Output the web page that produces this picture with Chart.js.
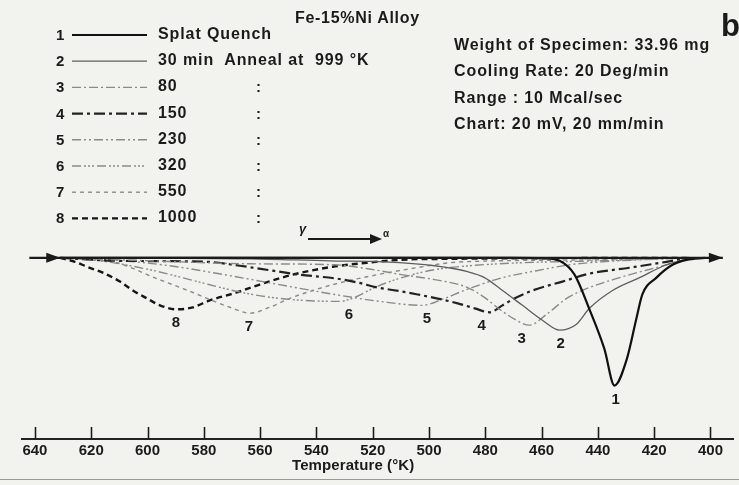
<!DOCTYPE html>
<html>
<head>
<meta charset="utf-8">
<title>Fe-15%Ni Alloy</title>
<script src="https://cdn.jsdelivr.net/npm/chart.js@4.4.1/dist/chart.umd.min.js"></script>
<style>
    html, body { margin: 0; padding: 0; background: #f2f2ef; }
    #wrap { position: relative; width: 739px; height: 485px; background: #f2f2ef; overflow: hidden; }
    #chart { position: absolute; left: 0; top: 0; }
    .txt {
        position: absolute;
        font-family: "Liberation Sans", Arial, sans-serif;
        font-weight: bold;
        color: #1b1b1b;
        white-space: pre;
        line-height: 1;
    }
</style>
</head>
<body>
<div id="wrap">
    <canvas id="chart" width="739" height="485"></canvas>
    <div class="txt" style="left:295px;top:10px;font-size:16px;letter-spacing:0.7px">Fe-15%Ni Alloy</div>
    <div class="txt" style="left:721px;top:10px;font-size:31px">b</div>
    <div class="txt" style="left:292px;top:457px;font-size:15px;letter-spacing:0.1px">Temperature (°K)</div>
    <div class="txt" style="left:299px;top:222px;font-size:13px;font-style:italic">γ</div>
    <div style="position:absolute;left:308px;top:238px;width:64px;height:2px;background:#1b1b1b"></div>
    <div style="position:absolute;left:370px;top:234px;width:0;height:0;border-top:5px solid transparent;border-bottom:5px solid transparent;border-left:12px solid #1b1b1b"></div>
    <div class="txt" style="left:383px;top:229px;font-size:10px">α</div>
    <div style="position:absolute;left:0;top:479px;width:739px;height:1px;background:#9a9a98"></div>
</div>
<script>
/**
 * Fe-15%Ni alloy - cooling curves after different anneal times
 */

// Temperature axis (K), reversed
const tickValues = [400, 420, 440, 460, 480, 500, 520, 540, 560, 580, 600, 620, 640];

// Baseline (arrow) and arrow tips
const baseT = [642, 395.6];
const baseV = [0, 0];
const arrowTips = [631, 395.6];

// Curve 1 - Splat Quench
const t1 = [631, 600, 560, 500, 470, 459, 453.6, 448.3, 443, 437.7, 434.1, 429.8, 426.3, 424.2, 419.2, 413.5, 408.5, 402];
const d1 = [0, 0, 0, 0, 0, 0.5, 3, 17, 52, 92, 129, 103, 61, 37, 20, 7, 2, 0];

// Curve 2 - 30 min
const t2 = [631.1, 563.7, 535.3, 515.8, 498, 486.3, 480.3, 473.9, 466.8, 459.7, 453.6, 447.6, 443, 434.8, 425.2, 415.6, 408.5, 403.9];
const d2 = [0, 1, 3, 4, 8, 14, 20, 33, 48, 63, 73, 67, 51, 33, 20, 7, 2, 0];

// Curve 3 - 80 min
const t3 = [631.1, 599.2, 563.7, 533.5, 521.8, 509.7, 498, 486.3, 480.3, 474.9, 469.6, 464.3, 458.2, 451.1, 446.5, 432.3, 415.6, 407.5];
const d3 = [0, 3, 6, 7, 11, 17, 22, 30, 40, 52, 62, 68, 57, 41, 34, 20, 7, 0];

// Curve 4 - 150 min
const t4 = [631.1, 609.8, 578.9, 567.2, 555.5, 545.9, 532.8, 525.3, 518.2, 509.7, 504, 495.5, 489.8, 483.8, 478.5, 473.9, 470.3, 463.2, 452.6, 443, 428.8, 415.6, 407.5];
const d4 = [0, 3, 4, 8, 13, 17, 21, 25, 30, 34, 37, 42, 46, 51, 55, 48, 42, 33, 24, 16, 10, 4, 0];

// Curve 5 - 230 min
const t5 = [631.1, 613.4, 592.1, 570.8, 549.5, 533.5, 517.5, 502.6, 494.5, 488.4, 482.7, 473.9, 461.8, 450.1, 438.4, 425.2, 407.5];
const d5 = [0, 2, 8, 18, 29, 37, 44, 48, 41, 34, 28, 20, 13, 7, 4, 2, 0];

// Curve 6 - 320 min
const t6 = [631.1, 616.9, 599.2, 585, 564.7, 549.5, 531.7, 526.4, 519.3, 509.7, 498, 485.6, 467.8, 439.4, 407.5];
const d6 = [0, 3, 12, 22, 36, 42, 44, 40, 30, 20, 12, 8, 5, 3, 0];

// Curve 7 - 550 min
const t7 = [631.1, 620.5, 610.9, 596.7, 583.9, 578.9, 569.7, 563.7, 556.6, 549.5, 541.3, 532.8, 516.5, 504.4, 492.7, 474.9, 439.4, 407.5];
const d7 = [0, 2, 5, 21, 35, 41, 51, 56, 50, 41, 33, 26, 16, 10, 5, 3, 2, 0];

// Curve 8 - 1000 min
const t8 = [631.1, 625.8, 621.5, 615.9, 609.8, 605.2, 600.2, 595.6, 589.6, 583.9, 577.9, 568.3, 561.2, 548.4, 534.2, 522.1, 510.4, 492.7, 407.5];
const d8 = [0, 4, 9, 15, 24, 33, 41, 48, 52, 50, 43, 35, 28, 17, 9, 5, 2, 1, 0];

// Legend
const curveNames = ['1', '2', '3', '4', '5', '6', '7', '8'];
const legendLabels = ['Splat Quench', '30 min  Anneal at  999 °K', '80', '150', '230', '320', '550', '1000'];

// Info block
const infoLines = [
    'Weight of Specimen: 33.96 mg',
    'Cooling Rate: 20 Deg/min',
    'Range : 10 Mcal/sec',
    'Chart: 20 mV, 20 mm/min'
];

const FONT = '"Liberation Sans", Arial, sans-serif';
const INK = '#1b1b1b';

// line look for each curve
const curveStyles = [
    { color: '#111111', width: 2.2, dash: [] },
    { color: '#5e5e5e', width: 1.3, dash: [] },
    { color: '#8a8a8a', width: 1.4, dash: [9, 3, 2, 3] },
    { color: '#222222', width: 2.2, dash: [11, 4, 3, 4] },
    { color: '#8a8a8a', width: 1.4, dash: [9, 3, 2, 3, 2, 3] },
    { color: '#8a8a8a', width: 1.4, dash: [9, 3, 2, 2, 2, 2, 2, 3] },
    { color: '#8a8a8a', width: 1.4, dash: [4, 4] },
    { color: '#161616', width: 2.4, dash: [6, 4] }
];
const curveT = [t1, t2, t3, t4, t5, t6, t7, t8];
const curveD = [d1, d2, d3, d4, d5, d6, d7, d8];
const labelDx = [2, 2, -7, -7, 6, 10, 0, 0];

function toPoints(ts, ds) {
    return ts.map((t, i) => ({ x: t, y: -ds[i] }));
}

const datasets = [{
    label: 'baseline',
    data: toPoints(baseT, baseV),
    borderColor: INK,
    borderWidth: 2.2,
    pointRadius: 0
}];
curveT.forEach((ts, i) => {
    datasets.push({
        label: curveNames[i],
        data: toPoints(ts, curveD[i]),
        borderColor: curveStyles[i].color,
        borderWidth: curveStyles[i].width,
        borderDash: curveStyles[i].dash,
        pointRadius: 0,
        cubicInterpolationMode: 'monotone'
    });
});

/**
 * Upward tick marks, baseline arrow heads, legend line samples
 */
const decorPlugin = {
    id: 'decor',
    afterDraw(chart) {
        const ctx = chart.ctx;
        const xs = chart.scales.x;
        const ys = chart.scales.y;
        const bottom = chart.chartArea.bottom;
        ctx.save();

        // ticks pointing up
        ctx.strokeStyle = INK;
        ctx.lineWidth = 1.6;
        tickValues.forEach(v => {
            const px = Math.round(xs.getPixelForValue(v)) + 0.5;
            ctx.beginPath();
            ctx.moveTo(px, bottom);
            ctx.lineTo(px, bottom - 12);
            ctx.stroke();
        });

        // arrow heads on the baseline
        ctx.fillStyle = INK;
        const y0 = ys.getPixelForValue(0);
        arrowTips.forEach(t => {
            const px = xs.getPixelForValue(t);
            ctx.beginPath();
            ctx.moveTo(px, y0);
            ctx.lineTo(px - 14, y0 - 5);
            ctx.lineTo(px - 14, y0 + 5);
            ctx.closePath();
            ctx.fill();
        });

        // legend samples
        curveStyles.forEach((s, i) => {
            const y = 35 + i * 26.2;
            ctx.strokeStyle = s.color;
            ctx.lineWidth = s.width;
            ctx.setLineDash(s.dash);
            ctx.beginPath();
            ctx.moveTo(72, y);
            ctx.lineTo(147, y);
            ctx.stroke();
        });
        ctx.restore();
    }
};

const chart = new Chart(document.getElementById('chart'), {
    type: 'line',
    data: { datasets },
    options: {
        responsive: false,
        animation: false,
        events: [],
        layout: { padding: { left: 22, right: 6, top: 241, bottom: 22 } },
        plugins: { legend: { display: false }, tooltip: { enabled: false } },
        scales: {
            x: {
                type: 'linear',
                reverse: true,
                min: 392,
                max: 644.6,
                afterBuildTicks: (scale) => {
                    scale.ticks = tickValues.map(v => ({ value: v }));
                },
                ticks: {
                    color: INK,
                    padding: 3,
                    maxRotation: 0,
                    autoSkip: false,
                    font: { family: FONT, size: 15, weight: 'bold' }
                },
                grid: { display: false, drawTicks: false },
                border: { display: true, color: '#222222', width: 2 }
            },
            y: {
                type: 'linear',
                display: false,
                min: -183,
                max: 17
            }
        }
    },
    plugins: [decorPlugin]
});

/**
 * Text overlays
 */
const wrap = document.getElementById('wrap');

function addText(text, left, top, size, extra) {
    const el = document.createElement('div');
    el.className = 'txt';
    el.textContent = text;
    el.style.left = left + 'px';
    el.style.top = top + 'px';
    el.style.fontSize = size + 'px';
    if (extra) Object.assign(el.style, extra);
    wrap.appendChild(el);
    return el;
}

// legend rows
curveNames.forEach((n, i) => {
    const y = 35 + i * 26.2;
    addText(n, 56, y - 8, 15);
    addText(legendLabels[i], 158, y - 9, 16, { letterSpacing: '0.9px' });
    if (i >= 2) addText(':', 256, y - 8, 15);
});

// info block
infoLines.forEach((line, i) => {
    addText(line, 454, 37 + i * 26.3, 16, { letterSpacing: '0.9px' });
});

// curve numbers under each minimum
const xs = chart.scales.x;
const ys = chart.scales.y;
curveD.forEach((ds, i) => {
    let k = 0;
    ds.forEach((d, j) => { if (d > ds[k]) k = j; });
    const px = xs.getPixelForValue(curveT[i][k]) + labelDx[i];
    const py = ys.getPixelForValue(-ds[k]);
    addText(curveNames[i], px - 5, py + 5, 15);
});
</script>
</body>
</html>
